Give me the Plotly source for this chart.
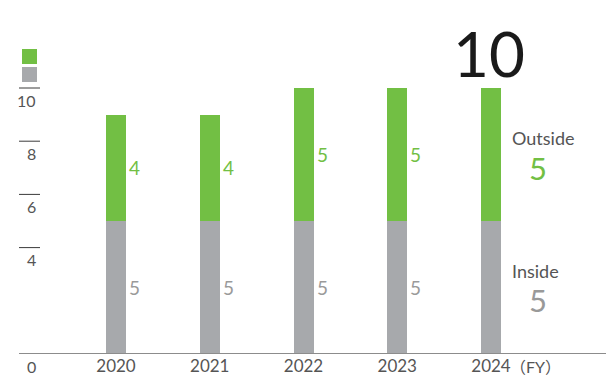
import plotly.graph_objects as go

# Board composition by fiscal year
years = ["2020", "2021", "2022", "2023", "2024"]
inside = [5, 5, 5, 5, 5]
outside = [4, 4, 5, 5, 5]
y_ticks = [0, 4, 6, 8, 10]

GREEN = "#72bf44"
GRAY = "#a7a9ac"
FONT = "Lato, 'Noto Sans CJK JP', sans-serif"

W, H = 606, 375
ML, MR, MT, MB = 0, 0, 20, 21
step = 93.75           # px between bar centres
first = 116            # px of first bar centre
px_per_unit = 26.6

xs = list(range(len(years)))
totals = [a + b for a, b in zip(inside, outside)]
plot_h = H - MT - MB
last = len(years) - 1

fig = go.Figure()
fig.add_trace(go.Bar(x=xs, y=inside, name="Inside", marker_color=GRAY,
                     width=20 / step, marker_line_width=0))
fig.add_trace(go.Bar(x=xs, y=outside, name="Outside", marker_color=GREEN,
                     width=20 / step, marker_line_width=0))

ann = []
# segment value labels (the latest year is summarised on the right instead)
for i in xs[:-1]:
    ann.append(dict(x=i, y=inside[i] / 2, text=str(inside[i]), xanchor="left",
                    xshift=11, showarrow=False,
                    font=dict(size=19, color="#9a9a9a", family=FONT)))
    ann.append(dict(x=i, y=inside[i] + outside[i] / 2, text=str(outside[i]),
                    xanchor="left", xshift=11, showarrow=False,
                    font=dict(size=19, color=GREEN, family=FONT)))

# latest-year summary
ann.append(dict(x=last, y=totals[last], text=str(totals[last]), yanchor="bottom",
                yshift=-4, xshift=-2, showarrow=False,
                font=dict(size=62, color="#1a1a1a", family=FONT)))
ann.append(dict(x=last, y=inside[last] + outside[last] / 2, text="Outside",
                xanchor="left", xshift=19, yshift=17, showarrow=False,
                font=dict(size=18, color="#555555", family=FONT)))
ann.append(dict(x=last, y=inside[last] + outside[last] / 2, text=str(outside[last]),
                xanchor="center", xshift=47, yshift=-13, showarrow=False,
                font=dict(size=31, color=GREEN, family=FONT)))
ann.append(dict(x=last, y=inside[last] / 2, text="Inside",
                xanchor="left", xshift=19, yshift=17, showarrow=False,
                font=dict(size=18, color="#555555", family=FONT)))
ann.append(dict(x=last, y=inside[last] / 2, text=str(inside[last]),
                xanchor="center", xshift=47, yshift=-12, showarrow=False,
                font=dict(size=31, color="#999999", family=FONT)))
# fiscal-year suffix after the last category label
ann.append(dict(x=last, y=0, text="（FY）", xanchor="left", yanchor="middle",
                xshift=17, yshift=-12, showarrow=False,
                font=dict(size=16, color="#555555", family=FONT)))

# y tick labels sit just below their tick marks
for v in y_ticks:
    ann.append(dict(xref="paper", x=38 / W, y=v, text=str(v), xanchor="right",
                    yanchor="middle", yshift=-12, showarrow=False,
                    font=dict(size=16, color="#555555", family=FONT)))

shapes = []
for v in y_ticks:
    if v == 0:
        continue
    shapes.append(dict(type="line", xref="paper", x0=19 / W, x1=40 / W, y0=v, y1=v,
                       line=dict(color="#3a3a3a", width=1)))
# baseline
shapes.append(dict(type="line", xref="paper", x0=19 / W, x1=1, y0=0, y1=0,
                   line=dict(color="#8c8c8c", width=2)))
# colour key squares
def py(p):
    return (H - MB - p) / plot_h
shapes.append(dict(type="rect", xref="paper", yref="paper", x0=22 / W, x1=37 / W,
                   y0=py(64), y1=py(49), fillcolor=GREEN, line_width=0))
shapes.append(dict(type="rect", xref="paper", yref="paper", x0=22 / W, x1=37 / W,
                   y0=py(82), y1=py(67), fillcolor=GRAY, line_width=0))

fig.update_layout(
    width=W, height=H, margin=dict(l=ML, r=MR, t=MT, b=MB, autoexpand=False),
    barmode="stack", showlegend=False,
    plot_bgcolor="white", paper_bgcolor="white",
    annotations=ann, shapes=shapes,
    font=dict(family=FONT),
    xaxis=dict(range=[-first / step, (W - first) / step], tickvals=xs, ticktext=years,
               showgrid=False, zeroline=False, showline=False, ticks="",
               automargin=False,
               tickfont=dict(size=17, color="#555555", family=FONT)),
    yaxis=dict(range=[0, plot_h / px_per_unit], showgrid=False, zeroline=False,
               showline=False, showticklabels=False, ticks="", automargin=False),
)

fig.write_html("out.html")
